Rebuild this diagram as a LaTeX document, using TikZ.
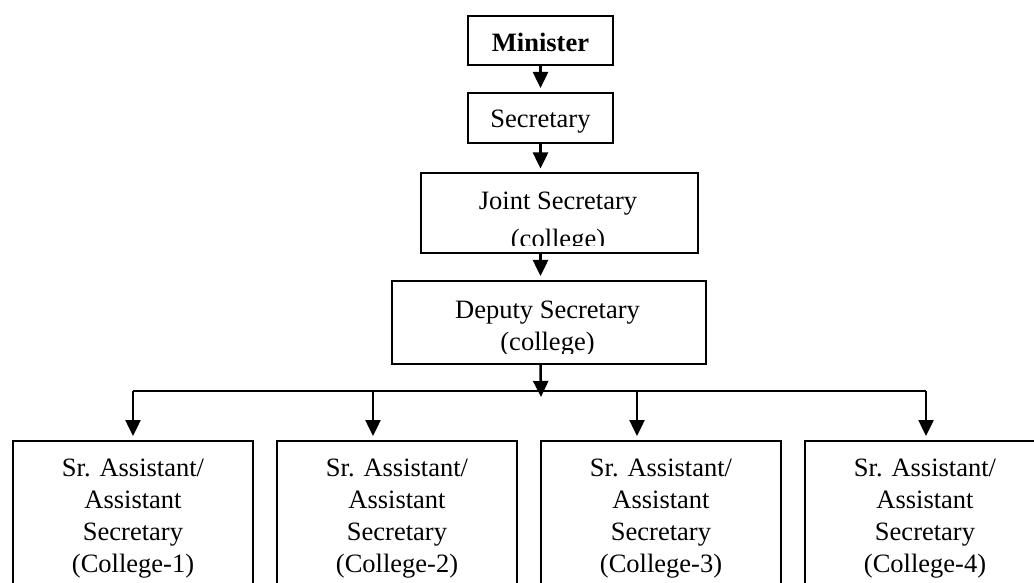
\documentclass[tikz,border=0pt]{standalone}
\usepackage{fontspec}
\setmainfont{Liberation Serif}
\usetikzlibrary{arrows.meta,calc}

\tikzset{
  orgbox/.style={draw,line width=2pt,inner sep=0pt,align=center},
  orgtext/.style={inner sep=0pt,align=center},
  link/.style={line width=2.5pt,-{Triangle[length=16pt,width=15pt]},shorten >=4pt},
  bigfont/.style={font=\fontsize{26.5}{32}\selectfont}
}

\begin{document}
\begin{tikzpicture}[x=1pt,y=1pt]
  \clip (0,0) rectangle (1034,582);
  % top of the chain
  \node[orgbox,bigfont,minimum width=145pt,minimum height=49pt,text height=23pt,text depth=0pt] (minister) at (540.5,541.5) {\bfseries Minister};
  \node[orgbox,bigfont,minimum width=145pt,minimum height=50pt,text height=20pt,text depth=0pt] (secretary) at (540.5,464) {Secretary};
  \node[orgbox,minimum width=277pt,minimum height=80pt] (joint) at (559.5,368.5) {};
  \node[orgbox,minimum width=314pt,minimum height=83pt] (deputy) at (549,259.5) {};
  % text of the two wide boxes, cut off at the bottom
  \begin{scope}
    \clip (joint.north west) rectangle ($(joint.south east)+(0,8.5)$);
    \node[orgtext,font=\fontsize{26.5}{38}\selectfont,anchor=base] (jointtxt) at (558,334) {Joint Secretary\\(college)};
  \end{scope}
  \begin{scope}
    \clip (deputy.north west) rectangle ($(deputy.south east)+(0,11.5)$);
    \node[orgtext,font=\fontsize{26.5}{32}\selectfont,anchor=base] (deputytxt) at (547.5,232) {Deputy Secretary\\(college)};
  \end{scope}
  % college sections
  \node[orgbox,bigfont,minimum width=240pt,minimum height=156pt] (c1) at (133,63) {Sr. Assistant/\\Assistant\\Secretary\\(College-1)};
  \node[orgbox,bigfont,minimum width=240pt,minimum height=156pt] (c2) at (397,63) {Sr. Assistant/\\Assistant\\Secretary\\(College-2)};
  \node[orgbox,bigfont,minimum width=240pt,minimum height=156pt] (c3) at (661,63) {Sr. Assistant/\\Assistant\\Secretary\\(College-3)};
  \node[orgbox,bigfont,minimum width=240pt,minimum height=156pt] (c4) at (925,63) {Sr. Assistant/\\Assistant\\Secretary\\(College-4)};
  % arrows
  \coordinate (dtip) at (541,185);
  \draw[link] (minister) -- (secretary);
  \draw[link] (secretary) -- (secretary.south |- joint.north);
  \draw[link] (secretary.south |- joint.south) -- (secretary.south |- deputy.north);
  \draw[link,shorten >=0pt] (secretary.south |- deputy.south) -- (dtip);
  \coordinate (d1) at (133,191);
  \coordinate (d2) at (373,191);
  \coordinate (d3) at (637,191);
  \coordinate (d4) at (926,191);
  \draw[line width=2.5pt] (d1) -- (d4);
  \foreach \i in {1,...,4}
    \draw[link] (d\i) -- (d\i |- c\i.north);
\end{tikzpicture}
\end{document}
